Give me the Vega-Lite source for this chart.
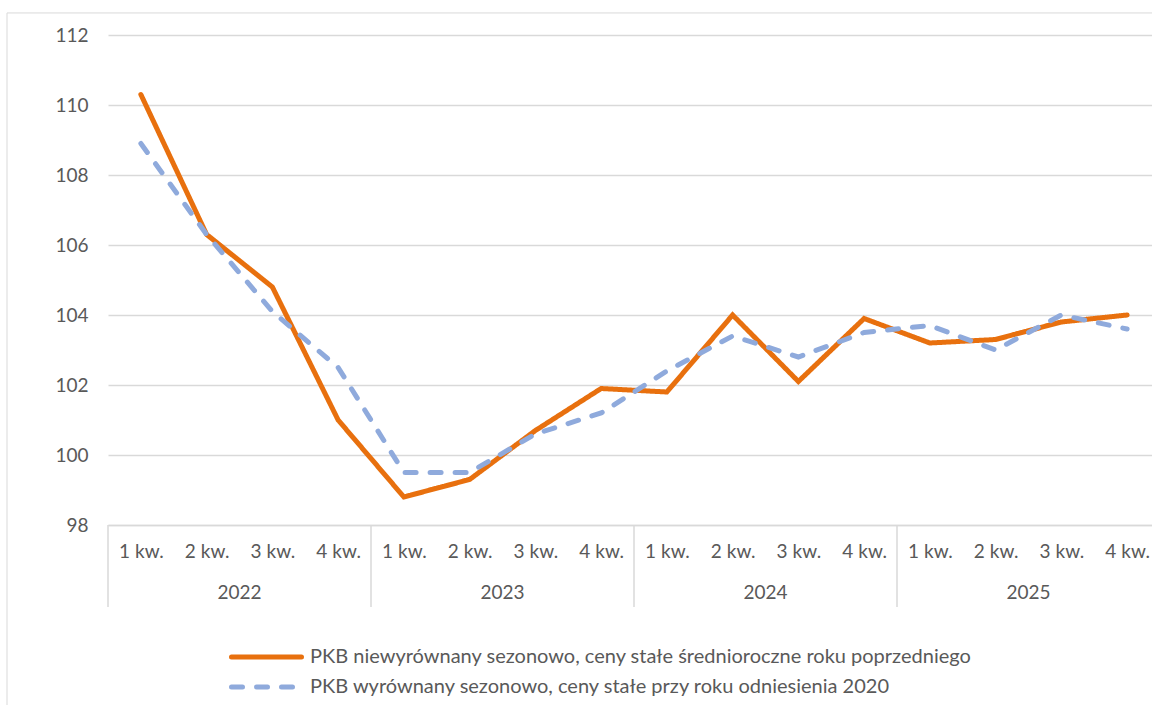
{
  "$schema": "https://vega.github.io/schema/vega-lite/v6.json",
  "width": 1052,
  "height": 490,
  "autosize": {"type": "none"},
  "padding": {"left": 108, "top": 35, "right": 0, "bottom": 180},
  "background": "white",
  "config": {
    "view": {"stroke": null},
    "font": "Lato",
    "axis": {"labelFont": "Lato", "labelColor": "#595959", "labelFontSize": 19, "title": null},
    "axisX": {
      "ticks": false,
      "grid": false,
      "domainColor": "#d9d9d9",
      "domainWidth": 1.5,
      "labelPadding": 17,
      "labelFlush": false,
      "labelOverlap": false
    },
    "axisY": {
      "domain": false,
      "ticks": false,
      "grid": true,
      "gridColor": "#d9d9d9",
      "gridWidth": 1.5,
      "labelPadding": 20
    }
  },
  "datasets": {
    "pkb": [
      {"i": 0, "year": "2022", "q": "1 kw.", "series": "PKB niewyrównany sezonowo, ceny stałe średnioroczne roku poprzedniego", "value": 110.3},
      {"i": 1, "year": "2022", "q": "2 kw.", "series": "PKB niewyrównany sezonowo, ceny stałe średnioroczne roku poprzedniego", "value": 106.3},
      {"i": 2, "year": "2022", "q": "3 kw.", "series": "PKB niewyrównany sezonowo, ceny stałe średnioroczne roku poprzedniego", "value": 104.8},
      {"i": 3, "year": "2022", "q": "4 kw.", "series": "PKB niewyrównany sezonowo, ceny stałe średnioroczne roku poprzedniego", "value": 101.0},
      {"i": 4, "year": "2023", "q": "1 kw.", "series": "PKB niewyrównany sezonowo, ceny stałe średnioroczne roku poprzedniego", "value": 98.8},
      {"i": 5, "year": "2023", "q": "2 kw.", "series": "PKB niewyrównany sezonowo, ceny stałe średnioroczne roku poprzedniego", "value": 99.3},
      {"i": 6, "year": "2023", "q": "3 kw.", "series": "PKB niewyrównany sezonowo, ceny stałe średnioroczne roku poprzedniego", "value": 100.7},
      {"i": 7, "year": "2023", "q": "4 kw.", "series": "PKB niewyrównany sezonowo, ceny stałe średnioroczne roku poprzedniego", "value": 101.9},
      {"i": 8, "year": "2024", "q": "1 kw.", "series": "PKB niewyrównany sezonowo, ceny stałe średnioroczne roku poprzedniego", "value": 101.8},
      {"i": 9, "year": "2024", "q": "2 kw.", "series": "PKB niewyrównany sezonowo, ceny stałe średnioroczne roku poprzedniego", "value": 104.0},
      {"i": 10, "year": "2024", "q": "3 kw.", "series": "PKB niewyrównany sezonowo, ceny stałe średnioroczne roku poprzedniego", "value": 102.1},
      {"i": 11, "year": "2024", "q": "4 kw.", "series": "PKB niewyrównany sezonowo, ceny stałe średnioroczne roku poprzedniego", "value": 103.9},
      {"i": 12, "year": "2025", "q": "1 kw.", "series": "PKB niewyrównany sezonowo, ceny stałe średnioroczne roku poprzedniego", "value": 103.2},
      {"i": 13, "year": "2025", "q": "2 kw.", "series": "PKB niewyrównany sezonowo, ceny stałe średnioroczne roku poprzedniego", "value": 103.3},
      {"i": 14, "year": "2025", "q": "3 kw.", "series": "PKB niewyrównany sezonowo, ceny stałe średnioroczne roku poprzedniego", "value": 103.8},
      {"i": 15, "year": "2025", "q": "4 kw.", "series": "PKB niewyrównany sezonowo, ceny stałe średnioroczne roku poprzedniego", "value": 104.0},
      {"i": 0, "year": "2022", "q": "1 kw.", "series": "PKB wyrównany sezonowo, ceny stałe przy roku odniesienia 2020", "value": 108.9},
      {"i": 1, "year": "2022", "q": "2 kw.", "series": "PKB wyrównany sezonowo, ceny stałe przy roku odniesienia 2020", "value": 106.3},
      {"i": 2, "year": "2022", "q": "3 kw.", "series": "PKB wyrównany sezonowo, ceny stałe przy roku odniesienia 2020", "value": 104.1},
      {"i": 3, "year": "2022", "q": "4 kw.", "series": "PKB wyrównany sezonowo, ceny stałe przy roku odniesienia 2020", "value": 102.5},
      {"i": 4, "year": "2023", "q": "1 kw.", "series": "PKB wyrównany sezonowo, ceny stałe przy roku odniesienia 2020", "value": 99.5},
      {"i": 5, "year": "2023", "q": "2 kw.", "series": "PKB wyrównany sezonowo, ceny stałe przy roku odniesienia 2020", "value": 99.5},
      {"i": 6, "year": "2023", "q": "3 kw.", "series": "PKB wyrównany sezonowo, ceny stałe przy roku odniesienia 2020", "value": 100.6},
      {"i": 7, "year": "2023", "q": "4 kw.", "series": "PKB wyrównany sezonowo, ceny stałe przy roku odniesienia 2020", "value": 101.2},
      {"i": 8, "year": "2024", "q": "1 kw.", "series": "PKB wyrównany sezonowo, ceny stałe przy roku odniesienia 2020", "value": 102.4},
      {"i": 9, "year": "2024", "q": "2 kw.", "series": "PKB wyrównany sezonowo, ceny stałe przy roku odniesienia 2020", "value": 103.4},
      {"i": 10, "year": "2024", "q": "3 kw.", "series": "PKB wyrównany sezonowo, ceny stałe przy roku odniesienia 2020", "value": 102.8},
      {"i": 11, "year": "2024", "q": "4 kw.", "series": "PKB wyrównany sezonowo, ceny stałe przy roku odniesienia 2020", "value": 103.5},
      {"i": 12, "year": "2025", "q": "1 kw.", "series": "PKB wyrównany sezonowo, ceny stałe przy roku odniesienia 2020", "value": 103.7},
      {"i": 13, "year": "2025", "q": "2 kw.", "series": "PKB wyrównany sezonowo, ceny stałe przy roku odniesienia 2020", "value": 103.0},
      {"i": 14, "year": "2025", "q": "3 kw.", "series": "PKB wyrównany sezonowo, ceny stałe przy roku odniesienia 2020", "value": 104.0},
      {"i": 15, "year": "2025", "q": "4 kw.", "series": "PKB wyrównany sezonowo, ceny stałe przy roku odniesienia 2020", "value": 103.6}
    ],
    "years": [
      {"start": -0.5, "mid": 1.5, "year": "2022"},
      {"start": 3.5, "mid": 5.5, "year": "2023"},
      {"start": 7.5, "mid": 9.5, "year": "2024"},
      {"start": 11.5, "mid": 13.5, "year": "2025"}
    ]
  },
  "layer": [
    {
      "data": {"name": "pkb"},
      "mark": {"type": "line", "strokeWidth": 5, "strokeCap": "round", "strokeJoin": "miter"},
      "encoding": {
        "x": {
          "field": "i",
          "type": "quantitative",
          "scale": {"domain": [-0.5, 15.5], "nice": false, "zero": false},
          "axis": {
            "values": [0, 1, 2, 3, 4, 5, 6, 7, 8, 9, 10, 11, 12, 13, 14, 15],
            "labelExpr": "['1 kw.', '2 kw.', '3 kw.', '4 kw.'][datum.value % 4]"
          }
        },
        "y": {
          "field": "value",
          "type": "quantitative",
          "scale": {"domain": [98, 112], "nice": false, "zero": false},
          "axis": {
            "values": [98, 100, 102, 104, 106, 108, 110, 112]
          }
        },
        "color": {
          "field": "series",
          "type": "nominal",
          "scale": {
            "domain": ["PKB niewyrównany sezonowo, ceny stałe średnioroczne roku poprzedniego", "PKB wyrównany sezonowo, ceny stałe przy roku odniesienia 2020"],
            "range": ["#E8700E", "#8FAADC"]
          },
          "legend": {
            "title": null,
            "orient": "none",
            "legendX": 121,
            "legendY": 612,
            "direction": "vertical",
            "symbolType": "stroke",
            "symbolSize": 4900,
            "symbolStrokeWidth": 5,
            "labelFontSize": 20,
            "labelFont": "Lato",
            "labelColor": "#595959",
            "labelLimit": 1000,
            "clipHeight": 20,
            "rowPadding": 10,
            "labelOffset": 6,
            "encode": {"symbols": {"update": {"strokeCap": {"value": "round"}}}}
          }
        },
        "strokeDash": {
          "field": "series",
          "type": "nominal",
          "scale": {
            "domain": ["PKB niewyrównany sezonowo, ceny stałe średnioroczne roku poprzedniego", "PKB wyrównany sezonowo, ceny stałe przy roku odniesienia 2020"],
            "range": [[1, 0], [11, 14]]
          },
          "legend": null
        }
      }
    },
    {
      "data": {"name": "years"},
      "mark": {"type": "rule", "color": "#d9d9d9", "strokeWidth": 1.5},
      "encoding": {
        "x": {"field": "start", "type": "quantitative"},
        "y": {"datum": 98, "type": "quantitative"},
        "y2": {"datum": 95.66}
      }
    },
    {
      "data": {"name": "years"},
      "mark": {"type": "text", "fontSize": 19, "font": "Lato", "color": "#595959", "baseline": "middle", "align": "center"},
      "encoding": {
        "x": {"field": "mid", "type": "quantitative"},
        "y": {"datum": 96.06, "type": "quantitative"},
        "text": {"field": "year"}
      }
    },
    {
      "data": {"values": [{}]},
      "mark": {"type": "rect", "fill": null, "stroke": "#d9d9d9", "strokeWidth": 1},
      "encoding": {
        "x": {"datum": -2.036, "type": "quantitative"},
        "x2": {"datum": 17},
        "y": {"datum": 112.63, "type": "quantitative"},
        "y2": {"datum": 90}
      }
    }
  ]
}
